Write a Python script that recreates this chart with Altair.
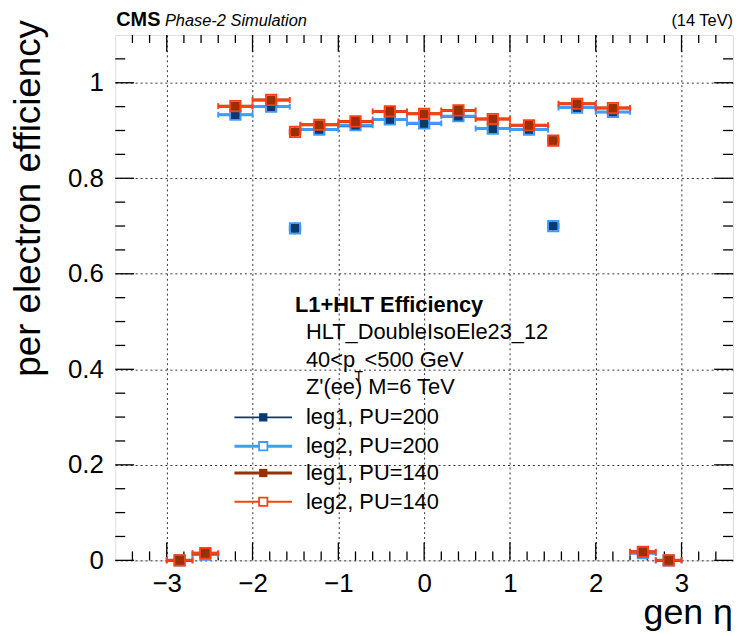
import altair as alt
import pandas as pd

# ---------------- data ----------------
eta_lo = [-3.0, -2.7, -2.4, -2.0, -1.566, -1.444, -1.0, -0.6, -0.2, 0.2, 0.6, 1.0, 1.444, 1.566, 2.0, 2.4, 2.7]
eta_hi = [-2.7, -2.4, -2.0, -1.566, -1.444, -1.0, -0.6, -0.2, 0.2, 0.6, 1.0, 1.444, 1.566, 2.0, 2.4, 2.7, 3.0]

eff_leg1_pu200 = [0.0, 0.012, 0.933, 0.950, 0.695, 0.901, 0.909, 0.922, 0.914, 0.929, 0.903, 0.901, 0.700, 0.947, 0.938, 0.015, 0.0]
eff_leg2_pu200 = [0.0, 0.012, 0.933, 0.950, 0.695, 0.902, 0.911, 0.923, 0.915, 0.930, 0.904, 0.902, 0.700, 0.948, 0.939, 0.015, 0.0]
eff_leg1_pu140 = [0.0, 0.015, 0.951, 0.964, 0.897, 0.912, 0.919, 0.940, 0.935, 0.942, 0.924, 0.911, 0.879, 0.956, 0.947, 0.018, 0.0]
eff_leg2_pu140 = [0.0, 0.015, 0.951, 0.964, 0.897, 0.912, 0.919, 0.940, 0.935, 0.942, 0.924, 0.911, 0.879, 0.956, 0.947, 0.018, 0.0]

err_pu200 = [0.0, 0.004, 0.004, 0.004, 0.012, 0.004, 0.003, 0.003, 0.003, 0.003, 0.003, 0.004, 0.012, 0.004, 0.004, 0.004, 0.0]
err_pu140 = [0.0, 0.004, 0.004, 0.003, 0.009, 0.003, 0.003, 0.003, 0.003, 0.003, 0.003, 0.003, 0.009, 0.003, 0.004, 0.004, 0.0]

series_names = ["leg1, PU=200", "leg2, PU=200", "leg1, PU=140", "leg2, PU=140"]
series_colors = ["#0b3a6e", "#3f9cff", "#9a3000", "#ff4015"]

x_major = [-3, -2, -1, 0, 1, 2, 3]
x_minor = [-3.4, -3.2, -2.8, -2.6, -2.4, -2.2, -1.8, -1.6, -1.4, -1.2, -0.8, -0.6, -0.4, -0.2,
           0.2, 0.4, 0.6, 0.8, 1.2, 1.4, 1.6, 1.8, 2.2, 2.4, 2.6, 2.8, 3.2, 3.4]
y_major = [0.0, 0.2, 0.4, 0.6, 0.8, 1.0]
y_minor = [0.05, 0.1, 0.15, 0.25, 0.3, 0.35, 0.45, 0.5, 0.55, 0.65, 0.7, 0.75, 0.85, 0.9, 0.95, 1.05]

header_lines = ["HLT_DoubleIsoEle23_12", "Z'(ee) M=6 TeV"]

# ---------------- layout ----------------
W, H = 622, 529
FONT = "Liberation Sans"
xs = alt.Scale(domain=[-3.6, 3.6], nice=False, zero=False)
ys = alt.Scale(domain=[0, 1.1], nice=False, zero=False)

AX = alt.Axis(values=x_major, format="d", title=None, grid=True,
              gridDash=[2, 3], gridColor="#333", gridWidth=1,
              ticks=False, tickSize=0, domain=False,
              labelFont=FONT, labelFontSize=26, labelColor="black", labelPadding=10)
AY = alt.Axis(values=y_major, format="~g", title=None, grid=True,
              gridDash=[2, 3], gridColor="#333", gridWidth=1,
              ticks=False, tickSize=0, domain=False,
              labelFont=FONT, labelFontSize=26, labelColor="black", labelPadding=12)


def X(f):
    return alt.X(f, type="quantitative", scale=xs, axis=AX)


def Y(f):
    return alt.Y(f, type="quantitative", scale=ys, axis=AY)


effs = [eff_leg1_pu200, eff_leg2_pu200, eff_leg1_pu140, eff_leg2_pu140]
errs = [err_pu200, err_pu200, err_pu140, err_pu140]

layers = []

# inward ticks on all four sides
xmaj = pd.DataFrame({"v": x_major})
xmin = pd.DataFrame({"v": x_minor})
ymaj = pd.DataFrame({"v": y_major})
ymin = pd.DataFrame({"v": y_minor})
tick_style = dict(color="black", strokeWidth=1.3)
layers += [
    alt.Chart(xmaj).mark_rule(**tick_style).encode(x=X("v"), y=alt.value(H), y2=alt.value(H - 18)),
    alt.Chart(xmin).mark_rule(**tick_style).encode(x=X("v"), y=alt.value(H), y2=alt.value(H - 9)),
    alt.Chart(xmaj).mark_rule(**tick_style).encode(x=X("v"), y=alt.value(0), y2=alt.value(17)),
    alt.Chart(xmin).mark_rule(**tick_style).encode(x=X("v"), y=alt.value(0), y2=alt.value(8)),
    alt.Chart(ymaj).mark_rule(**tick_style).encode(y=Y("v"), x=alt.value(0), x2=alt.value(19)),
    alt.Chart(ymin).mark_rule(**tick_style).encode(y=Y("v"), x=alt.value(0), x2=alt.value(10)),
    alt.Chart(ymaj).mark_rule(**tick_style).encode(y=Y("v"), x=alt.value(W), x2=alt.value(W - 19)),
    alt.Chart(ymin).mark_rule(**tick_style).encode(y=Y("v"), x=alt.value(W), x2=alt.value(W - 10)),
]

# data series
bar_w = [2.0, 3.0, 3.0, 2.5]


def series_base(i):
    df = pd.DataFrame({"lo": eta_lo, "hi": eta_hi, "eff": effs[i], "err": errs[i]})
    return alt.Chart(df).transform_calculate(
        c="(datum.lo + datum.hi) / 2",
        ylo="datum.eff - datum.err",
        yhi="datum.eff + datum.err",
    )


def bars(i):
    col = series_colors[i]
    b = series_base(i)
    out = [
        b.mark_rule(color=col, strokeWidth=bar_w[i]).encode(x=X("lo"), x2="hi", y=Y("eff")),
        b.mark_rule(color=col, strokeWidth=2).encode(x=X("c"), y=Y("ylo"), y2="yhi"),
    ]
    if i in (1, 3):
        out.append(b.mark_rule(color=col, strokeWidth=2, yOffset=-3, y2Offset=3).encode(
            x=X("lo"), y=Y("eff"), y2="eff"))
        out.append(b.mark_rule(color=col, strokeWidth=2, yOffset=-3, y2Offset=3).encode(
            x=X("hi"), y=Y("eff"), y2="eff"))
    return out


def marker(i):
    col = series_colors[i]
    b = series_base(i)
    if i in (1, 3):
        return [b.mark_point(shape="square", size=110, filled=False, color=col,
                             strokeWidth=1.8, opacity=1).encode(x=X("c"), y=Y("eff"))]
    return [b.mark_point(shape="square", size=80, filled=True, color=col,
                         opacity=1).encode(x=X("c"), y=Y("eff"))]


for grp in ((0, 1), (2, 3)):
    for i in grp:
        layers += bars(i)
    for i in grp:
        layers += marker(i)

# ---------------- texts ----------------
one = pd.DataFrame({"t": [""]})


def txt(text, x, y, size, align="left", baseline="middle", weight="normal", style="normal", angle=0):
    kw = dict(text=text, font=FONT, fontSize=size, align=align, baseline=baseline,
              fontWeight=weight, fontStyle=style, color="black")
    if angle:
        kw["angle"] = angle
    return alt.Chart(one).mark_text(**kw).encode(x=alt.value(x), y=alt.value(y))


LF = 22  # legend font size
layers += [
    txt("CMS", 1, -9, 20, baseline="alphabetic", weight="bold"),
    txt("Phase-2 Simulation", 50, -9, 16.5, baseline="alphabetic", style="italic"),
    txt("(14 TeV)", W, -9, 16.5, align="right", baseline="alphabetic"),
    txt("per electron efficiency", -76, -15, 37, align="right", baseline="alphabetic", angle=270),
    txt("gen \u03b7", W, 593, 36, align="right", baseline="alphabetic"),
    txt("L1+HLT Efficiency", 181, 272, LF, weight="bold"),
    txt(header_lines[0], 192, 299, LF),
    txt("40<p", 192, 327, LF),
    txt("T", 241, 344, 14),
    txt("<500 GeV", 251, 327, LF),
    txt(header_lines[1], 192, 354, LF),
]

# legend entries
leg_y = [385, 414, 441, 470]
leg_line_w = [1.8, 3.0, 3.0, 1.8]
for i, (name, col) in enumerate(zip(series_names, series_colors)):
    yy = leg_y[i]
    layers.append(alt.Chart(one).mark_rule(color=col, strokeWidth=leg_line_w[i]).encode(
        x=alt.value(120), x2=alt.value(178), y=alt.value(yy)))
    if i in (1, 3):
        layers.append(alt.Chart(one).mark_point(shape="square", size=70, filled=True, fill="white",
                                                stroke=col, strokeWidth=1.8, opacity=1).encode(
            x=alt.value(149), y=alt.value(yy)))
    else:
        layers.append(alt.Chart(one).mark_point(shape="square", size=70, filled=True, color=col,
                                                opacity=1).encode(x=alt.value(149), y=alt.value(yy)))
    layers.append(txt(name, 192, yy, LF))

chart = alt.layer(*layers).properties(
    width=W, height=H,
    autosize=alt.AutoSizeParams(type="none"),
    padding={"left": 108, "top": 25, "right": 2, "bottom": 74},
).configure_view(stroke="black", strokeWidth=1.5).configure(background="white")

chart.save("out.html", embed_options={"renderer": "svg", "actions": False})
